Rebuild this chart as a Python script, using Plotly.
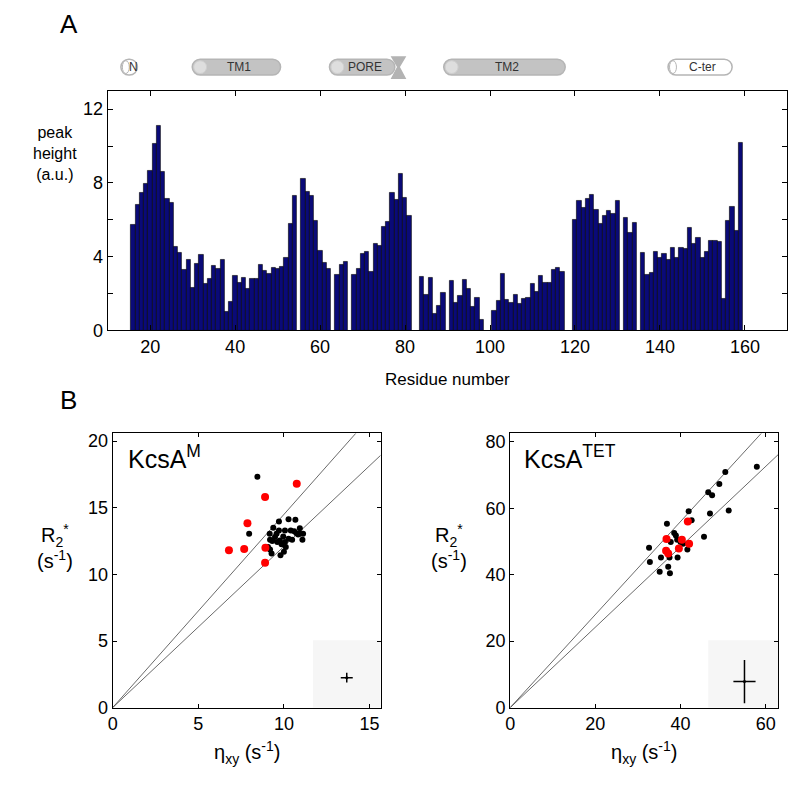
import plotly.graph_objects as go

# ---------------- data ----------------
residues = list(range(16, 160))
peak_height = [
    5.72, 6.80, 7.45, 7.95, 8.67, 10.11, 11.08, 8.60, 7.12, 6.92,      # 16-25
    4.55, 4.19, 3.31, 3.81, 2.30, 3.63, 4.11, 2.55, 2.80, 3.50,        # 26-35
    3.35, 3.81, 1.03, 1.54, 2.94, 2.60, 2.83, 2.28, 2.80, 2.78,        # 36-45
    3.54, 3.24, 3.08, 3.40, 3.35, 3.45, 3.93, 5.77, 7.29, None,        # 46-55
    8.23, 7.50, 7.31, 5.93, 4.32, 3.68, 3.33, None, 3.01, 3.58,        # 56-65
    3.70, None, 3.03, 3.36, 4.16, 4.25, 3.19, 4.71, 4.57, 5.63,        # 66-75
    5.91, 7.47, 7.06, 8.50, 7.22, 6.21, None, None, 2.88, 1.95,        # 76-85
    2.85, 0.92, 1.33, 2.05, None, 2.71, 1.50, 1.86, 2.73, 2.28,        # 86-95
    1.29, 1.79, 0.57, None, None, 1.06, 1.63, 3.06, 1.65, 1.49,        # 96-105
    1.93, 1.43, 1.73, 1.77, 2.51, 2.11, 2.97, 2.60, 2.57, 3.27,        # 106-115
    3.40, 3.20, None, None, 6.02, 7.01, 6.67, 7.15, 7.33, 6.55,        # 116-125
    5.81, 6.23, 6.50, 6.32, 7.01, None, 6.12, 5.31, 5.82, None,        # 126-135
    4.21, 3.01, 3.10, 4.28, 3.96, 4.18, 3.84, 4.50, 3.96, 4.50,        # 136-145
    4.42, 5.59, 4.71, 5.01, 3.93, 4.28, 4.88, 4.85, 4.81, 1.70,        # 146-155
    5.95, 6.69, 5.38, 10.19,                                           # 156-159
]

# topology segments (residue ranges)
seg_names = ["N", "TM1", "PORE", "TM2", "C-ter"]
seg_start = [13.1, 29.9, 62.2, 89.1, 141.9]
seg_end = [17.0, 50.7, 77.6, 117.7, 157.0]
seg_filled = [False, True, True, True, False]
filter_range = [76.6, 80.3]

# KcsA^M
m_black_x = [8.45, 7.97, 9.71, 10.27, 10.67, 9.38, 9.71, 10.06, 10.60, 10.93, 11.12, 9.17,
             9.48, 9.96, 10.27, 10.73, 11.08, 9.32, 9.61, 9.86, 10.11, 9.07, 9.19, 9.28,
             9.80, 10.00, 10.48, 10.83, 10.40, 9.57, 9.76, 10.06, 9.19, 10.93]
m_black_y = [17.33, 13.05, 13.96, 14.13, 14.10, 13.49, 13.29, 13.29, 13.24, 13.46, 13.05, 13.05,
             12.80, 12.85, 12.68, 13.09, 12.60, 12.50, 12.43, 12.26, 12.06, 12.06, 11.86, 11.57,
             11.44, 11.69, 12.60, 13.00, 13.29, 13.05, 12.55, 12.43, 12.60, 13.05]
m_red_x = [10.75, 8.90, 7.87, 6.79, 7.68, 8.92, 8.90]
m_red_y = [16.81, 15.80, 13.83, 11.81, 11.91, 11.99, 10.88]

# KcsA^TET
t_black_x = [57.9, 50.5, 49.1, 46.5, 47.4, 51.3, 46.9, 41.9, 42.6, 45.5, 36.8, 38.5, 38.9,
             39.2, 40.0, 37.7, 32.6, 32.8, 35.4, 37.4, 39.3, 41.6, 37.1, 35.1, 37.5, 40.6]
t_black_y = [72.5, 70.9, 67.3, 64.8, 63.9, 59.3, 58.4, 59.1, 56.4, 51.4, 55.3, 52.5, 51.8,
             50.5, 49.8, 49.8, 48.1, 43.8, 45.2, 45.2, 45.2, 47.6, 42.4, 40.9, 40.4, 49.3]
t_red_x = [41.7, 36.7, 40.3, 42.0, 39.6, 36.6, 37.1]
t_red_y = [56.0, 50.7, 50.5, 49.3, 47.9, 47.2, 46.4]

# reference lines (slopes) and typical error bars
m_slopes = [1.45, 1.21]
t_slopes = [1.40, 1.21]
m_err = dict(x=13.67, y=2.25, ex=0.35, ey=0.37)
t_err = dict(x=55.0, y=7.85, ex=2.6, ey=6.5)

# ---------------- layout geometry (window pixels) ----------------
OFF = 8                      # default body margin of the html page
W, H = 800 - OFF, 790 - OFF  # figure size so it fits the window
FONT = "Arial, Liberation Sans, sans-serif"


def PX(p):
    return (p - OFF) / W


def PY(p):
    return 1 - (p - OFF) / H


bar_xr = [10, 170]
bar_px = [103.3, 787.3]
bar_py = [90, 333.3]
sc_py = [438, 716.5]
m_px = [108.3, 378]
t_px = [508.3, 778]
m_xr, m_yr = [0, 15.65], [0, 20.58]
t_xr, t_yr = [0, 62.9], [0, 82.5]

fig = go.Figure()

# ---------------- bar chart ----------------
fig.add_trace(go.Bar(x=residues, y=peak_height, width=1,
                     marker=dict(color="#0a0a78", line=dict(color="black", width=0.6)),
                     xaxis="x", yaxis="y", showlegend=False))

# ---------------- scatter KcsA^M ----------------
for s in m_slopes:
    fig.add_trace(go.Scatter(x=[0, m_xr[1]], y=[0, s * m_xr[1]], mode="lines",
                             line=dict(color="#444", width=0.8), xaxis="x2", yaxis="y2",
                             showlegend=False))
fig.add_trace(go.Scatter(x=m_black_x, y=m_black_y, mode="markers",
                         marker=dict(color="black", size=6), xaxis="x2", yaxis="y2", showlegend=False))
fig.add_trace(go.Scatter(x=m_red_x, y=m_red_y, mode="markers",
                         marker=dict(color="#ff0000", size=8), xaxis="x2", yaxis="y2", showlegend=False))
fig.add_trace(go.Scatter(x=[m_err["x"]], y=[m_err["y"]], mode="markers",
                         marker=dict(color="black", size=3),
                         error_x=dict(type="constant", value=m_err["ex"], width=0, color="black", thickness=1.5),
                         error_y=dict(type="constant", value=m_err["ey"], width=0, color="black", thickness=1.5),
                         xaxis="x2", yaxis="y2", showlegend=False))

# ---------------- scatter KcsA^TET ----------------
for s in t_slopes:
    fig.add_trace(go.Scatter(x=[0, t_xr[1]], y=[0, s * t_xr[1]], mode="lines",
                             line=dict(color="#444", width=0.8), xaxis="x3", yaxis="y3",
                             showlegend=False))
fig.add_trace(go.Scatter(x=t_black_x, y=t_black_y, mode="markers",
                         marker=dict(color="black", size=6), xaxis="x3", yaxis="y3", showlegend=False))
fig.add_trace(go.Scatter(x=t_red_x, y=t_red_y, mode="markers",
                         marker=dict(color="#ff0000", size=8), xaxis="x3", yaxis="y3", showlegend=False))
fig.add_trace(go.Scatter(x=[t_err["x"]], y=[t_err["y"]], mode="markers",
                         marker=dict(color="black", size=3),
                         error_x=dict(type="constant", value=t_err["ex"], width=0, color="black", thickness=1.5),
                         error_y=dict(type="constant", value=t_err["ey"], width=0, color="black", thickness=1.5),
                         xaxis="x3", yaxis="y3", showlegend=False))

axis_common = dict(showgrid=False, zeroline=False, showline=True, linecolor="black", linewidth=1,
                   mirror="ticks", ticks="inside", ticklen=5, tickcolor="black",
                   tickfont=dict(family=FONT, size=18, color="black"), fixedrange=True)
sc_axis = {**axis_common, "ticklen": 4}

shapes = []
annotations = []

fig.update_layout(
    width=W, height=H, margin=dict(l=0, r=0, t=0, b=0),
    paper_bgcolor="white", plot_bgcolor="white", bargap=0,
    font=dict(family=FONT, color="black"),
    xaxis=dict(domain=[PX(bar_px[0]), PX(bar_px[1])], range=bar_xr, anchor="y",
               tickvals=list(range(20, 161, 20)), **axis_common),
    yaxis=dict(domain=[PY(bar_py[1]), PY(bar_py[0])], range=[0, 13], anchor="x",
               tickvals=list(range(0, 13, 2)), ticktext=["0", "", "4", "", "8", "", "12"], **axis_common),
    xaxis2=dict(domain=[PX(m_px[0]), PX(m_px[1])], range=m_xr, anchor="y2",
                tickvals=[0, 5, 10, 15], **sc_axis),
    yaxis2=dict(domain=[PY(sc_py[1]), PY(sc_py[0])], range=m_yr, anchor="x2",
                tickvals=[0, 5, 10, 15, 20], **sc_axis),
    xaxis3=dict(domain=[PX(t_px[0]), PX(t_px[1])], range=t_xr, anchor="y3",
                tickvals=[0, 20, 40, 60], **sc_axis),
    yaxis3=dict(domain=[PY(sc_py[1]), PY(sc_py[0])], range=t_yr, anchor="x3",
                tickvals=[0, 20, 40, 60, 80], **sc_axis),
)

# inset backgrounds for error-bar legend
shapes.append(dict(type="rect", xref="x2", yref="y2", x0=11.7, x1=m_xr[1], y0=0, y1=5.06,
                   fillcolor="#f6f6f6", line=dict(width=0), layer="below"))
shapes.append(dict(type="rect", xref="x3", yref="y3", x0=46.5, x1=t_xr[1], y0=0, y1=20.3,
                   fillcolor="#f6f6f6", line=dict(width=0), layer="below"))


# ---------------- topology cartoon ----------------
def res2px(r):
    return bar_px[0] + (r - bar_xr[0]) * (bar_px[1] - bar_px[0]) / (bar_xr[1] - bar_xr[0])


def capsule_path(L, R, C, h):
    k = 0.5523
    r = h
    pts = [
        ("M", [(L + r, C - h)]),
        ("L", [(R - r, C - h)]),
        ("C", [(R - r + k * r, C - h), (R, C - k * r), (R, C)]),
        ("C", [(R, C + k * r), (R - r + k * r, C + h), (R - r, C + h)]),
        ("L", [(L + r, C + h)]),
        ("C", [(L + r - k * r, C + h), (L, C + k * r), (L, C)]),
        ("C", [(L, C - k * r), (L + r - k * r, C - h), (L + r, C - h)]),
    ]
    s = ""
    for cmd, pl in pts:
        s += cmd + " " + " ".join(f"{PX(x):.5f},{PY(y):.5f}" for x, y in pl) + " "
    return s + "Z"


CY, HH = 66, 8
for name, a, b, filled in zip(seg_names, seg_start, seg_end, seg_filled):
    L, R = res2px(a), res2px(b)
    shapes.append(dict(type="path", xref="paper", yref="paper", path=capsule_path(L, R, CY, HH),
                       fillcolor="#c3c3c3" if filled else "white",
                       line=dict(color="#b5b5b5", width=1.5)))
    shapes.append(dict(type="circle", xref="paper", yref="paper",
                       x0=PX(L + 1.5), x1=PX(L + 1.5 + 2 * HH - 3 if filled else L + 1.5 + 7),
                       y0=PY(CY + HH - 1.5), y1=PY(CY - HH + 1.5),
                       fillcolor="#dedede" if filled else "white",
                       line=dict(color="#cfcfcf" if filled else "#b5b5b5", width=1)))
    tx = (L + R) / 2 + (2 if not filled else 3)
    if name == "N":
        tx = L + 13
    annotations.append(dict(x=PX(tx), y=PY(CY), xref="paper", yref="paper", text=name,
                            showarrow=False, xanchor="center", yanchor="middle",
                            font=dict(family=FONT, size=12, color="#333")))

fl, fr = res2px(filter_range[0]), res2px(filter_range[1])
fm = (fl + fr) / 2
hourglass = (f"M {PX(fl):.5f},{PY(55):.5f} L {PX(fr):.5f},{PY(55):.5f} "
             f"L {PX(fm + 1.5):.5f},{PY(66):.5f} L {PX(fr):.5f},{PY(78):.5f} "
             f"L {PX(fl):.5f},{PY(78):.5f} L {PX(fm - 1.5):.5f},{PY(66):.5f} Z")
shapes.append(dict(type="path", xref="paper", yref="paper", path=hourglass,
                   fillcolor="#b3b3b3", line=dict(width=0)))


# ---------------- text ----------------
def txt(x, y, t, size, **kw):
    annotations.append(dict(x=PX(x), y=PY(y), xref="paper", yref="paper", text=t, showarrow=False,
                            xanchor=kw.get("xanchor", "center"), yanchor=kw.get("yanchor", "middle"),
                            align=kw.get("align", "center"),
                            font=dict(family=FONT, size=size, color="black")))


txt(64, 22, "A", 26)
txt(64, 404, "B", 26)
txt(50, 154, "peak<br>height<br>(a.u.)", 16)
txt(445, 383, "Residue number", 17)
txt(50, 553, "R<sub>2</sub><sup>*</sup><br>(s<sup>-1</sup>)", 20)
txt(447, 553, "R<sub>2</sub><sup>*</sup><br>(s<sup>-1</sup>)", 20)
txt(243, 762, "η<sub>xy</sub> (s<sup>-1</sup>)", 20)
txt(643, 762, "η<sub>xy</sub> (s<sup>-1</sup>)", 20)
txt(122, 462, "KcsA<sup>M</sup>", 25, xanchor="left")
txt(520, 462, "KcsA<sup>TET</sup>", 25, xanchor="left")

fig.update_layout(shapes=shapes, annotations=annotations)
fig.write_html("out.html", config={"displayModeBar": False})
